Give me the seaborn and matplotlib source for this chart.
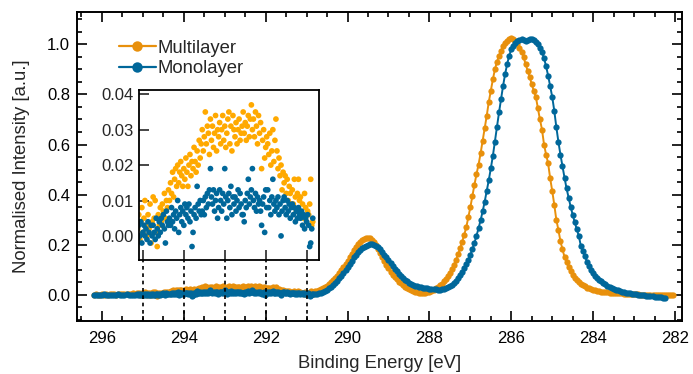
import numpy as np
import pandas as pd
import matplotlib
matplotlib.use("Agg")
import matplotlib.pyplot as plt
from matplotlib.lines import Line2D
from matplotlib.ticker import MultipleLocator, FormatStrFormatter
import seaborn as sns

# C 1s spectra
# low binding-energy side baseline, 296.20 -> 295.20 eV, step 0.05
multi_left = [0.000, 0.002, -0.001, 0.001, 0.003, 0.000, 0.002, 0.001, 0.004, 0.002,
              0.003, 0.001, 0.004, 0.002, 0.005, 0.003, 0.002, 0.005, 0.004, 0.006,
              0.003]
mono_left = [0.000, -0.002, 0.001, -0.001, 0.000, 0.002, -0.001, 0.001, -0.002, 0.000,
             0.001, -0.001, 0.002, 0.000, -0.001, 0.001, 0.002, 0.000, -0.001, 0.001,
             0.000]

# zoomed region shown in the inset, 295.150 -> 290.850 eV, step 0.025
multi_inset = [0.009, 0.002, 0.006, -0.001, 0.004, 0.008, 0.001, 0.005,
               0.010, 0.003, 0.000, 0.006, 0.002, 0.009, -0.002, 0.004,
               0.011, 0.005, 0.010, 0.001, -0.003, 0.006, 0.003, 0.008,
               0.004, 0.009, 0.007, 0.012, 0.005, 0.010, 0.008, 0.013,
               0.010, 0.015, 0.012, 0.018, 0.011, 0.016, 0.019, 0.014,
               0.020, 0.015, 0.018, 0.021, 0.017, 0.014, 0.019, 0.016,
               0.022, 0.018, 0.014, 0.020, 0.023, 0.017, 0.021, 0.019,
               0.025, 0.021, 0.018, 0.024, 0.020, 0.027, 0.022, 0.026,
               0.030, 0.024, 0.028, 0.035, 0.026, 0.031, 0.029, 0.023,
               0.033, 0.027, 0.031, 0.025, 0.029, 0.034, 0.024, 0.030,
               0.028, 0.032, 0.026, 0.030, 0.034, 0.027, 0.031, 0.025,
               0.029, 0.033, 0.035, 0.026, 0.031, 0.024, 0.034, 0.030,
               0.028, 0.032, 0.026, 0.030, 0.033, 0.027, 0.029, 0.031,
               0.035, 0.029, 0.032, 0.027, 0.031, 0.034, 0.028, 0.033,
               0.037, 0.030, 0.033, 0.028, 0.035, 0.031, 0.026, 0.034,
               0.029, 0.032, 0.019, 0.027, 0.030, 0.022, 0.025, 0.028,
               0.026, 0.023, 0.029, 0.020, 0.024, 0.030, 0.021, 0.027,
               0.033, 0.024, 0.019, 0.022, 0.017, 0.020, 0.013, 0.018,
               0.015, 0.017, 0.012, 0.016, 0.010, 0.014, 0.012, 0.009,
               0.013, 0.009, 0.016, 0.011, 0.007, 0.012, 0.016, 0.010,
               0.011, 0.006, 0.009, 0.005, 0.012, 0.008, 0.004, 0.007,
               0.006, 0.009, 0.016, 0.003, 0.004]
mono_inset = [0.002, -0.001, 0.003, 0.000, 0.004, -0.002, 0.001, 0.003,
              0.000, 0.002, -0.001, 0.004, 0.001, -0.002, 0.003, 0.000,
              0.003, 0.001, -0.001, 0.005, 0.002, 0.000, 0.004, 0.001,
              0.005, 0.003, 0.006, 0.002, -0.002, 0.007, 0.004, 0.003,
              0.005, 0.003, 0.008, 0.004, 0.006, 0.002, 0.007, 0.005,
              0.010, 0.001, 0.006, 0.008, 0.004, 0.007, 0.003, 0.009,
              0.006, 0.008, 0.005, 0.009, 0.004, 0.007, -0.003, 0.001,
              0.006, 0.008, 0.005, 0.014, 0.009, 0.007, 0.010, 0.006,
              0.007, 0.010, 0.006, 0.011, 0.008, 0.012, 0.009, 0.013,
              0.019, 0.011, 0.009, 0.013, 0.007, 0.010, 0.012, 0.005,
              0.008, 0.013, 0.010, 0.007, 0.012, 0.009, 0.019, 0.011,
              0.005, 0.010, 0.012, 0.008, 0.014, 0.006, 0.011, 0.009,
              0.011, 0.007, 0.010, 0.013, 0.008, 0.012, 0.009, 0.006,
              0.006, 0.004, 0.010, 0.008, 0.012, 0.016, 0.009, 0.011,
              0.013, 0.019, 0.010, 0.008, 0.012, 0.007, 0.011, 0.009,
              0.010, 0.007, 0.003, 0.009, 0.011, 0.001, 0.013, 0.008,
              0.013, 0.008, 0.010, 0.006, 0.011, 0.016, 0.009, 0.007,
              0.010, 0.008, 0.011, 0.006, 0.009, 0.000, 0.007, 0.010,
              0.011, 0.008, 0.006, 0.010, 0.007, 0.009, 0.005, 0.008,
              0.009, 0.006, 0.008, 0.004, 0.007, 0.005, 0.008, 0.006,
              0.005, 0.007, 0.003, 0.006, 0.002, 0.005, 0.004, 0.006,
              0.003, -0.003, -0.002, 0.002, 0.005]

# peaks and high binding-energy tail, from 290.80 eV, step 0.05
multi_right = [0.015, 0.016, 0.019, 0.022, 0.026, 0.031, 0.036, 0.042, 0.050, 0.058,
               0.067, 0.077, 0.088, 0.099, 0.111, 0.123, 0.136, 0.150, 0.165, 0.180,
               0.192, 0.203, 0.212, 0.219, 0.225, 0.228, 0.229, 0.226, 0.220, 0.210,
               0.198, 0.183, 0.168, 0.152, 0.136, 0.121, 0.106, 0.093, 0.081, 0.071,
               0.062, 0.053, 0.046, 0.039, 0.033, 0.028, 0.024, 0.020, 0.016, 0.013,
               0.011, 0.009, 0.008, 0.007, 0.008, 0.010, 0.012, 0.016, 0.021, 0.026,
               0.032, 0.038, 0.045, 0.054, 0.064, 0.076, 0.089, 0.104, 0.121, 0.140,
               0.162, 0.186, 0.212, 0.240, 0.270, 0.310, 0.350, 0.395, 0.440, 0.482,
               0.520, 0.565, 0.615, 0.665, 0.715, 0.770, 0.815, 0.860, 0.900, 0.930,
               0.955, 0.975, 0.992, 1.005, 1.015, 1.022, 1.025, 1.022, 1.012, 1.000,
               0.985, 0.970, 0.950, 0.920, 0.895, 0.870, 0.840, 0.815, 0.790, 0.745,
               0.700, 0.660, 0.600, 0.560, 0.525, 0.465, 0.415, 0.360, 0.300, 0.260,
               0.215, 0.182, 0.152, 0.130, 0.110, 0.094, 0.080, 0.068, 0.058, 0.050,
               0.044, 0.038, 0.034, 0.029, 0.026, 0.023, 0.021, 0.019, 0.017, 0.015,
               0.013, 0.012, 0.011, 0.010, 0.009, 0.008, 0.008, 0.007, 0.007, 0.006,
               0.006, 0.005, 0.004, 0.004, 0.003, 0.003, 0.002, 0.002, 0.002, 0.001,
               0.001, 0.001, 0.000, 0.001, 0.000, 0.000, 0.001, 0.000, -0.001, 0.000,
               0.000, 0.001, 0.000, 0.000, 0.001, 0.000]
mono_right = [0.004, 0.005, 0.007, 0.009, 0.012, 0.016, 0.021, 0.026, 0.032, 0.039,
              0.047, 0.056, 0.066, 0.076, 0.087, 0.099, 0.111, 0.124, 0.137, 0.150,
              0.161, 0.171, 0.180, 0.187, 0.193, 0.197, 0.200, 0.202, 0.202, 0.200,
              0.196, 0.190, 0.182, 0.172, 0.161, 0.150, 0.139, 0.127, 0.115, 0.104,
              0.094, 0.084, 0.075, 0.067, 0.060, 0.054, 0.049, 0.044, 0.040, 0.037,
              0.034, 0.032, 0.030, 0.028, 0.027, 0.026, 0.025, 0.024, 0.023, 0.022,
              0.021, 0.021, 0.022, 0.024, 0.027, 0.030, 0.034, 0.039, 0.046, 0.055,
              0.066, 0.078, 0.091, 0.106, 0.122, 0.140, 0.160, 0.183, 0.208, 0.236,
              0.266, 0.298, 0.333, 0.372, 0.414, 0.458, 0.505, 0.555, 0.610, 0.670,
              0.728, 0.782, 0.835, 0.882, 0.922, 0.955, 0.980, 0.995, 1.005, 1.012,
              1.018, 1.020, 1.018, 1.015, 1.018, 1.022, 1.020, 1.016, 1.010, 1.000,
              0.985, 0.968, 0.945, 0.912, 0.875, 0.832, 0.790, 0.735, 0.670, 0.612,
              0.560, 0.515, 0.468, 0.425, 0.388, 0.352, 0.320, 0.290, 0.262, 0.235,
              0.195, 0.175, 0.155, 0.132, 0.115, 0.100, 0.088, 0.077, 0.068, 0.061,
              0.054, 0.048, 0.042, 0.035, 0.031, 0.027, 0.024, 0.021, 0.018, 0.015,
              0.013, 0.011, 0.009, 0.007, 0.006, 0.004, 0.003, 0.002, 0.001, 0.000,
              -0.001, -0.002, -0.003, -0.004, -0.005, -0.006, -0.007, -0.008, -0.009, -0.010,
              -0.011, -0.012]

inset_ticks = [295, 294, 293, 292, 291]


def grid(start, step, n):
    return np.round(start - step * np.arange(n), 3)


def frame(sample, left, inset, right):
    e = np.concatenate([grid(296.20, 0.05, len(left)),
                        grid(295.15, 0.025, len(inset)),
                        grid(290.80, 0.05, len(right))])
    return pd.DataFrame({"energy": e, "intensity": np.concatenate([left, inset, right]),
                         "sample": sample})


main_df = pd.concat([frame("Multilayer", multi_left, multi_inset, multi_right),
                     frame("Monolayer", mono_left, mono_inset, mono_right)])
inset_df = main_df[(main_df.energy <= 295.15) & (main_df.energy >= 290.85)]

main_colors = {"Multilayer": "#E8900C", "Monolayer": "#00679A"}
inset_colors = {"Multilayer": "#FFA900", "Monolayer": "#00679A"}

sns.set_style("ticks")
plt.rcParams["font.family"] = ["Liberation Sans", "DejaVu Sans"]
tick_fs = 12
label_fs = 13.3

fig = plt.figure(figsize=(6.93, 3.74), dpi=100)
main_pos = [0.1111, 0.1417, 0.873, 0.827]
inset_pos = [0.2006, 0.3048, 0.2597, 0.4545]
ax = fig.add_axes(main_pos)

sns.lineplot(data=main_df, x="energy", y="intensity", hue="sample",
             hue_order=["Multilayer", "Monolayer"], palette=main_colors,
             marker="o", markersize=4.5, markeredgewidth=0, linewidth=1.4,
             estimator=None, legend=False, ax=ax)

xlim = (296.61, 281.83)
ax.set_xlim(*xlim)
ax.set_ylim(-0.104, 1.13)
ax.xaxis.set_major_locator(MultipleLocator(2))
ax.xaxis.set_minor_locator(MultipleLocator(0.5))
ax.yaxis.set_major_locator(MultipleLocator(0.2))
ax.yaxis.set_minor_locator(MultipleLocator(0.05))
ax.yaxis.set_major_formatter(FormatStrFormatter("%.1f"))
ax.tick_params(which="both", direction="in", top=True, right=True, width=1.2,
               labelsize=tick_fs, colors="black")
ax.tick_params(which="major", length=7)
ax.tick_params(which="minor", length=3.5)
ax.tick_params(axis="x", pad=7)
ax.tick_params(axis="y", pad=5)
for s in ax.spines.values():
    s.set_linewidth(1.4)
    s.set_color("black")
ax.set_xlabel("Binding Energy [eV]", fontsize=label_fs, labelpad=7)
ax.set_ylabel("Normalised Intensity [a.u.]", fontsize=label_fs, labelpad=12)

handles = [Line2D([], [], color=main_colors[k], marker="o", markersize=7.5,
                  markeredgewidth=0, linewidth=1.6) for k in ["Multilayer", "Monolayer"]]
ax.legend(handles, ["Multilayer", "Monolayer"], loc="upper left",
          bbox_to_anchor=(0.069, 0.91), frameon=False, fontsize=label_fs, borderpad=0,
          borderaxespad=0, handlelength=2.0, handletextpad=0.1, labelspacing=0.2)

# dotted guides from the inset ticks down to the main axis
ymax = (inset_pos[1] - main_pos[1]) / main_pos[3]
for e in inset_ticks:
    ax.axvline(e, ymin=0, ymax=ymax, color="black", linestyle=(0, (2.2, 2.2)),
               linewidth=1.2, zorder=5)

ins = fig.add_axes(inset_pos)
sns.scatterplot(data=inset_df, x="energy", y="intensity", hue="sample",
                hue_order=["Monolayer", "Multilayer"], palette=inset_colors,
                s=17, linewidth=0, legend=False, ax=ins)
# keep the inset on the same energy scale as the main axis
span = xlim[1] - xlim[0]
ins.set_xlim(xlim[0] + (inset_pos[0] - main_pos[0]) / main_pos[2] * span,
             xlim[0] + (inset_pos[0] + inset_pos[2] - main_pos[0]) / main_pos[2] * span)
ins.set_ylim(-0.0068, 0.0412)
ins.set_xticks(inset_ticks)
ins.yaxis.set_major_locator(MultipleLocator(0.01))
ins.yaxis.set_major_formatter(FormatStrFormatter("%.2f"))
ins.tick_params(direction="in", length=7, width=1.2, labelbottom=False,
                labelsize=tick_fs, pad=4)
ins.set_xlabel("")
ins.set_ylabel("")
for s in ins.spines.values():
    s.set_linewidth(1.3)
    s.set_color("black")

fig.savefig("out.png", dpi=100)
